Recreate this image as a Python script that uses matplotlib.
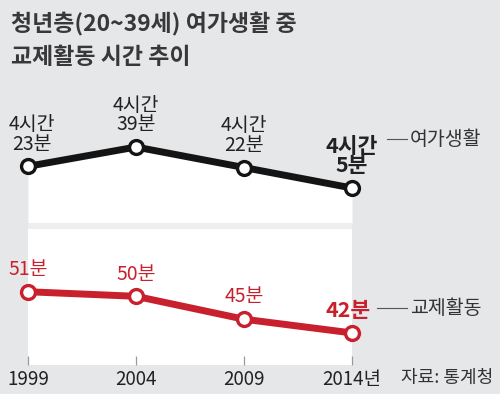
import matplotlib
matplotlib.use("Agg")
import matplotlib.pyplot as plt
from matplotlib.lines import Line2D
from matplotlib.patches import Rectangle

plt.rcParams['font.family'] = ['Noto Sans CJK KR', 'DejaVu Sans']

### data ###
years = [1999, 2004, 2009, 2014]
year_labels = ["1999", "2004", "2009", "2014년"]
leisure_min = [263, 279, 262, 245]          # 여가생활 (분)
leisure_txt = ["4시간\n23분", "4시간\n39분", "4시간\n22분", "4시간\n5분"]
social_min = [51, 50, 45, 42]               # 교제활동 (분)
social_txt = ["51분", "50분", "45분", "42분"]

BG = "#e6e7e9"
RED = "#c8202c"
BLACK = "#141414"
W, H = 500, 394

def fx(x):
    return x / W

def fy(y):
    return 1 - y / H

fig = plt.figure(figsize=(5, 3.94), dpi=100, facecolor=BG)

### title ###
fig.text(fx(11), fy(23), "청년층(20~39세) 여가생활 중", fontsize=16.5,
         fontweight='bold', color="#383838", va='center', ha='left')
fig.text(fx(11), fy(58), "교제활동 시간 추이", fontsize=16.5,
         fontweight='bold', color="#383838", va='center', ha='left')

### upper panel: 여가생활 ###
ax1 = fig.add_axes([fx(28), fy(223), fx(352) - fx(28), fy(100) - fy(223)])
ax1.set_facecolor("none")
ax1.set_xlim(years[0], years[-1])
ax1.set_ylim(216, 318)
ax1.axis("off")
ax1.fill_between(years, leisure_min, 216, color="white", lw=0, zorder=1)
ax1.plot(years, leisure_min, color=BLACK, lw=5, marker='o', ms=10,
         mfc="white", mec=BLACK, mew=2.4, clip_on=False, zorder=3)
for i, (x, v, t) in enumerate(zip(years, leisure_min, leisure_txt)):
    last = i == len(years) - 1
    ax1.annotate(t, (x, v), xytext=(3 if i == 0 else 0, 8.5), textcoords="offset points",
                 ha='center', va='bottom', fontsize=15.5 if last else 14,
                 fontweight='bold' if last else 'normal', color="#222222",
                 linespacing=0.92, annotation_clip=False)

# gap between panels
fig.patches.append(Rectangle((fx(28), fy(229)), fx(352) - fx(28), fy(223) - fy(229),
                             transform=fig.transFigure, color="#eeeeef", lw=0))

### lower panel: 교제활동 ###
ax2 = fig.add_axes([fx(28), fy(365), fx(352) - fx(28), fy(229) - fy(365)])
ax2.set_facecolor("white")
ax2.set_xlim(years[0], years[-1])
ax2.set_ylim(35.0, 64.7)
for s in ax2.spines.values():
    s.set_visible(False)
ax2.set_yticks([])
ax2.set_xticks(years)
ax2.set_xticklabels(year_labels)
ax2.tick_params(axis='x', direction='in', length=6.5, width=0.9, color="#9a9a9a",
                pad=3, labelsize=13.5, labelcolor="#222222")
ax2.plot(years, social_min, color=RED, lw=5, marker='o', ms=10,
         mfc="white", mec=RED, mew=2.4, clip_on=False, zorder=3)
for i, (x, v, t) in enumerate(zip(years, social_min, social_txt)):
    last = i == len(years) - 1
    ax2.annotate(t, (x, v), xytext=(-3 if last else 0, 8.5), textcoords="offset points",
                 ha='center', va='bottom', fontsize=15.5 if last else 14,
                 fontweight='bold' if last else 'normal', color=RED,
                 annotation_clip=False)

### series names ###
fig.lines.append(Line2D([fx(387), fx(407)], [fy(139), fy(139)], transform=fig.transFigure,
                        color="#555555", lw=0.8))
fig.text(fx(410), fy(140), "여가생활", fontsize=14, color="#333333", va='center', ha='left')
fig.lines.append(Line2D([fx(377), fx(407)], [fy(308), fy(308)], transform=fig.transFigure,
                        color="#555555", lw=0.8))
fig.text(fx(410), fy(309), "교제활동", fontsize=14, color="#333333", va='center', ha='left')

fig.text(fx(493), fy(378), "자료: 통계청", fontsize=13, color="#333333", va='center', ha='right')

fig.savefig("out.png", dpi=100, facecolor=BG)
